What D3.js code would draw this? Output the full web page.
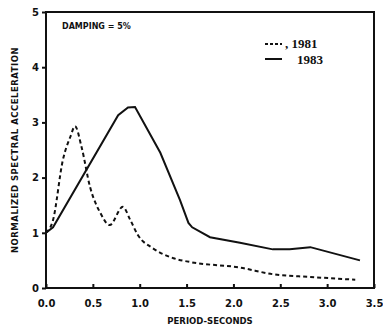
<!DOCTYPE html>
<html>
<head>
<meta charset="utf-8">
<script src="https://cdn.jsdelivr.net/npm/d3@7"></script>
<style>
body { margin:0; background:#fff; }
text { font-family: "DejaVu Sans", sans-serif; font-weight: bold; fill:#111; }
</style>
</head>
<body>
<div id="chart"></div>
<script>
// data (period in seconds, normalized acceleration)
var period1981 = [0.0, 0.075, 0.18, 0.26, 0.31, 0.38, 0.47, 0.58, 0.68, 0.82, 0.9, 0.98, 1.14, 1.36, 1.54, 2.07, 2.42, 2.82, 3.3];
var accel1981  = [1.0, 1.23, 2.32, 2.74, 2.93, 2.55, 1.83, 1.36, 1.14, 1.47, 1.23, 0.96, 0.72, 0.54, 0.47, 0.37, 0.25, 0.2, 0.15];
var period1983 = [0.0, 0.075, 0.77, 0.875, 0.95, 1.22, 1.43, 1.52, 1.56, 1.75, 2.07, 2.42, 2.6, 2.82, 3.35];
var accel1983  = [1.0, 1.1, 3.13, 3.27, 3.28, 2.45, 1.59, 1.18, 1.1, 0.92, 0.82, 0.7, 0.7, 0.74, 0.5];
var xTicks = [0, 0.5, 1.0, 1.5, 2.0, 2.5, 3.0, 3.5];
var xTickLabels = ["0.0", "0.5", "1.0", "1.5", "2.0", "2.5", "3.0", "3.5"];
var yTicks = [0, 1, 2, 3, 4, 5];

var margin = {top:12, right:9, bottom:42, left:46},
    width = 383 - margin.left - margin.right,
    height = 330 - margin.top - margin.bottom;

var x = d3.scaleLinear().domain([0, 3.5]).range([0, width]);
var y = d3.scaleLinear().domain([0, 5]).range([height, 0]);

var svg = d3.select("#chart").append("svg")
    .attr("width", 383)
    .attr("height", 330)
  .append("g")
    .attr("transform", "translate(" + margin.left + "," + margin.top + ")");

// frame
svg.append("rect")
    .attr("width", width).attr("height", height)
    .attr("fill", "none").attr("stroke", "#111").attr("stroke-width", 2);

// x axis
var xAxis = svg.append("g")
    .attr("transform", "translate(0," + height + ")")
    .call(d3.axisBottom(x).tickValues(xTicks).tickSize(-4).tickPadding(12)
        .tickFormat(function(d, i) { return xTickLabels[i]; }));
xAxis.select(".domain").remove();
xAxis.selectAll("line").attr("stroke", "#111").attr("stroke-width", 2);
xAxis.selectAll("text").style("font-size", "10px");

// y axis
var yAxis = svg.append("g")
    .call(d3.axisLeft(y).tickValues(yTicks).tickSize(4).tickPadding(3)
        .tickFormat(d3.format("d")));
yAxis.select(".domain").remove();
yAxis.selectAll("line").attr("stroke", "#111").attr("stroke-width", 2);
yAxis.selectAll("text").style("font-size", "10px");

// lines
var line = d3.line()
    .x(function(d) { return x(d[0]); })
    .y(function(d) { return y(d[1]); });

svg.append("path")
    .datum(d3.zip(period1983, accel1983))
    .attr("d", line)
    .attr("fill", "none").attr("stroke", "#111").attr("stroke-width", 2);

svg.append("path")
    .datum(d3.zip(period1981, accel1981))
    .attr("d", line.curve(d3.curveMonotoneX))
    .attr("fill", "none").attr("stroke", "#111").attr("stroke-width", 2)
    .attr("stroke-dasharray", "4,3");

// labels
svg.append("text")
    .attr("x", 16).attr("y", 17)
    .style("font-size", "8px")
    .text("DAMPING = 5%");

svg.append("text")
    .attr("transform", "translate(" + (-28) + "," + (height / 2) + ") rotate(-90)")
    .style("text-anchor", "middle")
    .style("font-size", "8.5px")
    .style("letter-spacing", "0.5px")
    .text("NORMALIZED SPECTRAL ACCELERATION");

svg.append("text")
    .attr("x", 164).attr("y", height + 36)
    .style("text-anchor", "middle")
    .style("font-size", "8.5px")
    .text("PERIOD-SECONDS");

// legend
var legend = svg.append("g").attr("transform", "translate(219,32)");
legend.append("line")
    .attr("x1", 0).attr("x2", 17).attr("y1", 0).attr("y2", 0)
    .attr("stroke", "#111").attr("stroke-width", 2).attr("stroke-dasharray", "3,2");
legend.append("text")
    .attr("x", 20).attr("y", 4)
    .style("font-family", "'Liberation Serif', serif")
    .style("font-size", "13px")
    .text(", 1981");
legend.append("line")
    .attr("x1", 0).attr("x2", 17).attr("y1", 15).attr("y2", 15)
    .attr("stroke", "#111").attr("stroke-width", 2);
legend.append("text")
    .attr("x", 32).attr("y", 20)
    .style("font-family", "'Liberation Serif', serif")
    .style("font-size", "13px")
    .text("1983");
</script>
</body>
</html>
